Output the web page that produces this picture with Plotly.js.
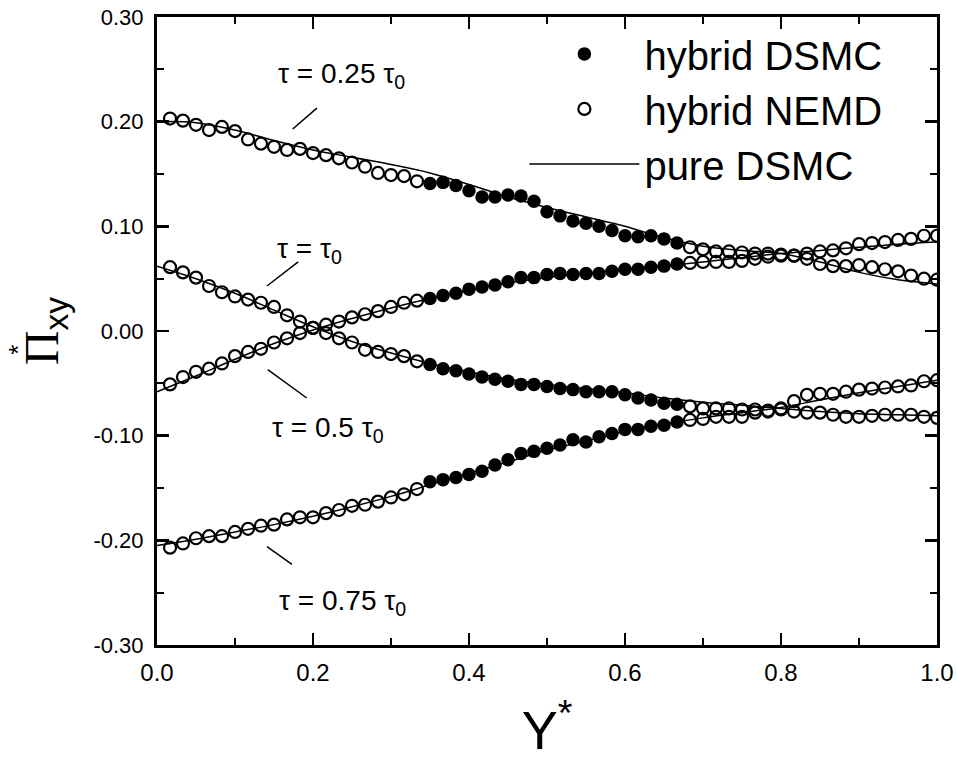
<!DOCTYPE html>
<html>
<head>
<meta charset="utf-8">
<script src="https://cdn.plot.ly/plotly-3.0.1.min.js"></script>
<style>html,body{margin:0;padding:0;background:#fff;}#chart{width:957px;height:760px;}</style>
</head>
<body>
<div id="chart"></div>
<script>
// Channel position Y* of the sample points (60 bins)
const Y_POS = [0.0167,0.0333,0.05,0.0667,0.0833,0.1,0.1167,0.1333,0.15,0.1667,
  0.1833,0.2,0.2167,0.2333,0.25,0.2667,0.2833,0.3,0.3167,0.3333,
  0.35,0.3667,0.3833,0.4,0.4167,0.4333,0.45,0.4667,0.4833,0.5,
  0.5167,0.5333,0.55,0.5667,0.5833,0.6,0.6167,0.6333,0.65,0.6667,
  0.6833,0.7,0.7167,0.7333,0.75,0.7667,0.7833,0.8,0.8167,0.8333,
  0.85,0.8667,0.8833,0.9,0.9167,0.9333,0.95,0.9667,0.9833,1.0];

// Hybrid results (bins 1-20 and 41-60: NEMD region, bins 21-40: DSMC region)
const PI_025 = [0.203,0.201,0.197,0.192,0.195,0.191,0.183,0.179,0.176,0.173,
  0.174,0.170,0.168,0.165,0.161,0.157,0.151,0.149,0.148,0.143,
  0.141,0.142,0.139,0.134,0.128,0.128,0.130,0.129,0.124,0.114,
  0.110,0.105,0.103,0.100,0.096,0.091,0.090,0.091,0.088,0.084,
  0.080,0.078,0.076,0.076,0.075,0.074,0.074,0.073,0.072,0.069,
  0.064,0.062,0.062,0.063,0.061,0.059,0.057,0.053,0.050,0.049];
const PI_100 = [0.061,0.056,0.051,0.043,0.037,0.033,0.030,0.027,0.023,0.015,
  0.009,0.003,-0.002,-0.007,-0.011,-0.018,-0.020,-0.022,-0.024,-0.029,
  -0.032,-0.036,-0.038,-0.041,-0.044,-0.046,-0.048,-0.051,-0.051,-0.053,
  -0.055,-0.056,-0.058,-0.058,-0.058,-0.061,-0.064,-0.066,-0.069,-0.070,
  -0.072,-0.074,-0.074,-0.074,-0.075,-0.075,-0.076,-0.075,-0.077,-0.078,
  -0.078,-0.080,-0.082,-0.082,-0.081,-0.080,-0.080,-0.080,-0.082,-0.083];
const PI_050 = [-0.051,-0.044,-0.039,-0.036,-0.031,-0.024,-0.020,-0.017,-0.011,-0.007,
  -0.002,0.003,0.006,0.009,0.013,0.016,0.019,0.023,0.027,0.029,
  0.031,0.034,0.036,0.040,0.042,0.044,0.047,0.051,0.051,0.054,
  0.055,0.054,0.055,0.055,0.057,0.059,0.059,0.061,0.062,0.064,
  0.065,0.066,0.066,0.066,0.067,0.069,0.071,0.072,0.072,0.074,
  0.076,0.077,0.079,0.083,0.084,0.085,0.087,0.088,0.091,0.091];
const PI_075 = [-0.207,-0.203,-0.198,-0.196,-0.196,-0.192,-0.189,-0.186,-0.185,-0.180,
  -0.178,-0.178,-0.174,-0.171,-0.167,-0.166,-0.163,-0.159,-0.156,-0.151,
  -0.144,-0.142,-0.140,-0.137,-0.134,-0.128,-0.123,-0.117,-0.115,-0.112,
  -0.109,-0.104,-0.106,-0.101,-0.098,-0.094,-0.094,-0.091,-0.090,-0.087,
  -0.085,-0.084,-0.082,-0.082,-0.082,-0.078,-0.077,-0.074,-0.067,-0.061,
  -0.060,-0.060,-0.058,-0.056,-0.055,-0.054,-0.053,-0.052,-0.048,-0.047];

// Pure DSMC reference curves
const LINE_Y = [0,0.05,0.1,0.15,0.2,0.25,0.3,0.35,0.4,0.45,0.5,0.55,0.6,0.65,0.7,0.75,0.8,0.85,0.9,0.95,1.0];
const PURE_025 = [0.200,0.199,0.192,0.182,0.173,0.166,0.159,0.151,0.140,0.128,0.118,0.109,0.100,0.089,0.081,0.077,0.074,0.066,0.056,0.049,0.045];
const PURE_100 = [0.062,0.050,0.036,0.020,0.004,-0.010,-0.021,-0.031,-0.039,-0.046,-0.051,-0.055,-0.059,-0.064,-0.068,-0.071,-0.074,-0.077,-0.079,-0.080,-0.081];
const PURE_050 = [-0.058,-0.043,-0.027,-0.012,0.001,0.012,0.022,0.031,0.039,0.046,0.051,0.055,0.059,0.062,0.066,0.070,0.074,0.077,0.080,0.083,0.085];
const PURE_075 = [-0.205,-0.199,-0.192,-0.185,-0.177,-0.168,-0.158,-0.147,-0.136,-0.125,-0.114,-0.105,-0.096,-0.089,-0.083,-0.078,-0.073,-0.066,-0.059,-0.053,-0.047];

const X_TICK_VALS = [0,0.2,0.4,0.6,0.8,1.0];
const X_TICK_TEXT = ['0.0','0.2','0.4','0.6','0.8','1.0'];
const Y_TICK_VALS = [-0.3,-0.2,-0.1,0,0.1,0.2,0.3];
const Y_TICK_TEXT = ['-0.30','-0.20','-0.10','0.00','0.10','0.20','0.30'];

const CURVES = [PI_025, PI_100, PI_050, PI_075];
const PURE = [PURE_025, PURE_100, PURE_050, PURE_075];

// split into DSMC (bins 21-40) and NEMD (others)
const dsmcX = [], dsmcY = [], nemdX = [], nemdY = [];
CURVES.forEach(c => {
  c.forEach((v, i) => {
    if (i >= 20 && i < 40) { dsmcX.push(Y_POS[i]); dsmcY.push(v); }
    else { nemdX.push(Y_POS[i]); nemdY.push(v); }
  });
  dsmcX.push(null); dsmcY.push(null); nemdX.push(null); nemdY.push(null);
});

const traces = [];
PURE.forEach((p, j) => {
  traces.push({
    x: LINE_Y, y: p, type: 'scatter', mode: 'lines',
    line: {color: '#000', width: 1.5, shape: 'spline', smoothing: 1},
    name: 'pure DSMC', showlegend: j === 0, legendrank: 3, hoverinfo: 'skip'
  });
});
traces.push({
  x: dsmcX, y: dsmcY, type: 'scatter', mode: 'markers', name: 'hybrid DSMC',
  marker: {symbol: 'circle', size: 13.5, color: '#000'}, legendrank: 1
});
traces.push({
  x: nemdX, y: nemdY, type: 'scatter', mode: 'markers', name: 'hybrid NEMD',
  marker: {symbol: 'circle-open', size: 12, color: '#000', line: {width: 2.2, color: '#000'}}, legendrank: 2
});

const FONT = 'Liberation Sans, Arial, sans-serif';
const labelFont = {family: FONT, size: 28, color: '#000'};

const labels = [
  {x: 0.236, y: 0.244, t: 'τ = 0.25 τ<sub>0</sub>'},
  {x: 0.195, y: 0.077, t: 'τ = τ<sub>0</sub>'},
  {x: 0.219, y: -0.094, t: 'τ = 0.5 τ<sub>0</sub>'},
  {x: 0.238, y: -0.259, t: 'τ = 0.75 τ<sub>0</sub>'}
];
const leaders = [
  [0.205, 0.213, 0.174, 0.193],
  [0.181, 0.066, 0.141, 0.043],
  [0.142, -0.037, 0.192, -0.064],
  [0.141, -0.206, 0.173, -0.223]
];

const annotations = labels.map(l => ({
  x: l.x, y: l.y, xref: 'x', yref: 'y', text: l.t, showarrow: false,
  font: labelFont, xanchor: 'center', yanchor: 'middle'
}));
annotations.push({
  xref: 'paper', yref: 'paper', x: -0.2, y: 0.47, text: '*', showarrow: false,
  textangle: -90, font: {family: FONT, size: 26, color: '#000'}
});

const shapes = leaders.map(s => ({
  type: 'line', xref: 'x', yref: 'y', x0: s[0], y0: s[1], x1: s[2], y1: s[3],
  line: {color: '#000', width: 1.5}
}));

const axisCommon = {
  showgrid: false, zeroline: false, showline: true, linecolor: '#000', linewidth: 3,
  mirror: 'ticks', ticks: 'inside', ticklen: 12, tickwidth: 2.5, tickcolor: '#000'
};

const layout = {
  width: 957, height: 760,
  margin: {l: 157, r: 20, t: 17, b: 115},
  paper_bgcolor: '#fff', plot_bgcolor: '#fff',
  showlegend: true,
  legend: {
    x: 0.471, y: 0.993, xanchor: 'left', yanchor: 'top',
    font: {family: FONT, size: 40, color: '#000'},
    bgcolor: 'rgba(0,0,0,0)', borderwidth: 0, tracegroupgap: 0,
    itemwidth: 110
  },
  xaxis: Object.assign({}, axisCommon, {
    range: [0, 1], tickvals: X_TICK_VALS, ticktext: X_TICK_TEXT,
    tickfont: {family: FONT, size: 24, color: '#000'},
    ticklabelstandoff: 4,
    minor: {dtick: 0.1, ticks: 'inside', ticklen: 7, tickwidth: 2, tickcolor: '#000'},
    title: {text: 'Y<sup>*</sup>', font: {family: FONT, size: 54, color: '#000'}, standoff: 36}
  }),
  yaxis: Object.assign({}, axisCommon, {
    range: [-0.3, 0.3], tickvals: Y_TICK_VALS, ticktext: Y_TICK_TEXT,
    tickfont: {family: FONT, size: 22, color: '#000'},
    ticklabelstandoff: 6,
    minor: {dtick: 0.05, ticks: 'inside', ticklen: 7, tickwidth: 2, tickcolor: '#000'},
    title: {text: '<span style="font-family:Liberation Serif">Π</span><sub>xy</sub>', font: {family: FONT, size: 48, color: '#000'}, standoff: 20}
  }),
  annotations: annotations,
  shapes: shapes
};

Plotly.newPlot('chart', traces, layout, {displayModeBar: false, staticPlot: true});
</script>
</body>
</html>
